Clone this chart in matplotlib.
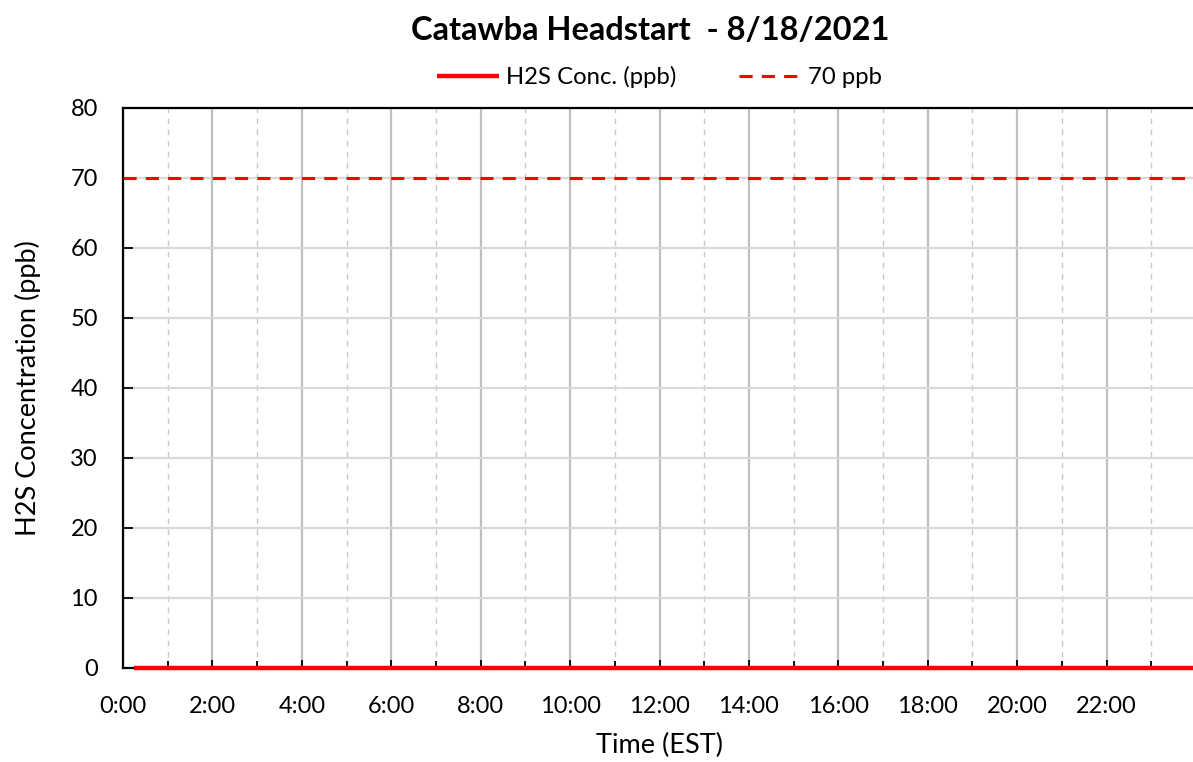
"""H2S concentration at Catawba Headstart for 8/18/2021."""

import matplotlib
matplotlib.use("Agg")
import matplotlib.pyplot as plt
from matplotlib.ticker import MultipleLocator, FixedLocator, FuncFormatter

plt.rcParams['font.family'] = ['Lato', 'DejaVu Sans']

# hours since midnight (EST) and H2S readings in ppb
hours = [0.25, 1, 2, 3, 4, 5, 6, 7, 8, 9, 10, 11, 12,
         13, 14, 15, 16, 17, 18, 19, 20, 21, 22, 23, 24]
h2s_ppb = [0, 0, 0, 0, 0, 0, 0, 0, 0, 0, 0, 0, 0,
           0, 0, 0, 0, 0, 0, 0, 0, 0, 0, 0, 0]
limit_ppb = 70
x_ticks = [0, 2, 4, 6, 8, 10, 12, 14, 16, 18, 20, 22]
y_ticks = [0, 10, 20, 30, 40, 50, 60, 70, 80]

fig = plt.figure(figsize=(11.93, 7.62), dpi=100)
ax = fig.add_axes([123 / 1193, 1 - 668 / 762, 1073 / 1193, 560 / 762])

ax.plot(hours, h2s_ppb, color='#FF0000', lw=3.2, label='H2S Conc. (ppb)',
        solid_capstyle='butt', zorder=4, clip_on=False)
ax.axhline(limit_ppb, color='#FF0000', lw=2.2, ls=(0, (4.3, 3.0)),
           label='70 ppb', zorder=4)

ax.set_xlim(0, 24)
ax.set_ylim(0, 80)
ax.xaxis.set_major_locator(FixedLocator(x_ticks))
ax.xaxis.set_minor_locator(MultipleLocator(1))
ax.xaxis.set_major_formatter(FuncFormatter(lambda v, p: f"{int(v)}:00"))
ax.set_yticks(y_ticks)

ax.grid(which='major', axis='x', color='#BFBFBF', lw=1.6)
ax.grid(which='minor', axis='x', color='#C8C8C8', lw=1.0, ls=(0, (4, 4)))
ax.grid(which='major', axis='y', color='#D9D9D9', lw=1.6)
ax.set_axisbelow(True)

ax.tick_params(axis='x', which='major', direction='in', length=6, width=1.3,
               pad=20, labelsize=17)
ax.tick_params(axis='x', which='minor', direction='in', length=5, width=1.3)
ax.tick_params(axis='y', direction='in', length=7, width=1.3, pad=18,
               labelsize=17)

for side in ('left', 'bottom', 'top'):
    ax.spines[side].set_linewidth(1.6)
ax.spines['right'].set_visible(False)

ax.set_xlabel('Time (EST)', fontsize=19.5)
ax.set_ylabel('H2S Concentration (ppb)', fontsize=19.5)
ax.xaxis.set_label_coords(0.5, (668 - 745) / 560)
ax.yaxis.set_label_coords((28 - 123) / 1073, 0.5)
ax.xaxis.label.set_va('center')
ax.yaxis.label.set_va('center')

fig.text(650 / 1193, 1 - 30 / 762, 'Catawba Headstart  - 8/18/2021',
         ha='center', va='center', fontsize=23.5, fontweight='bold')
ax.legend(loc='center', bbox_to_anchor=(0.5, 1 + 31 / 560), ncol=2,
          frameon=False, fontsize=17.2, handlelength=2.6, handletextpad=0.3,
          columnspacing=2.6, borderpad=0)

fig.savefig('out.png', dpi=100)
